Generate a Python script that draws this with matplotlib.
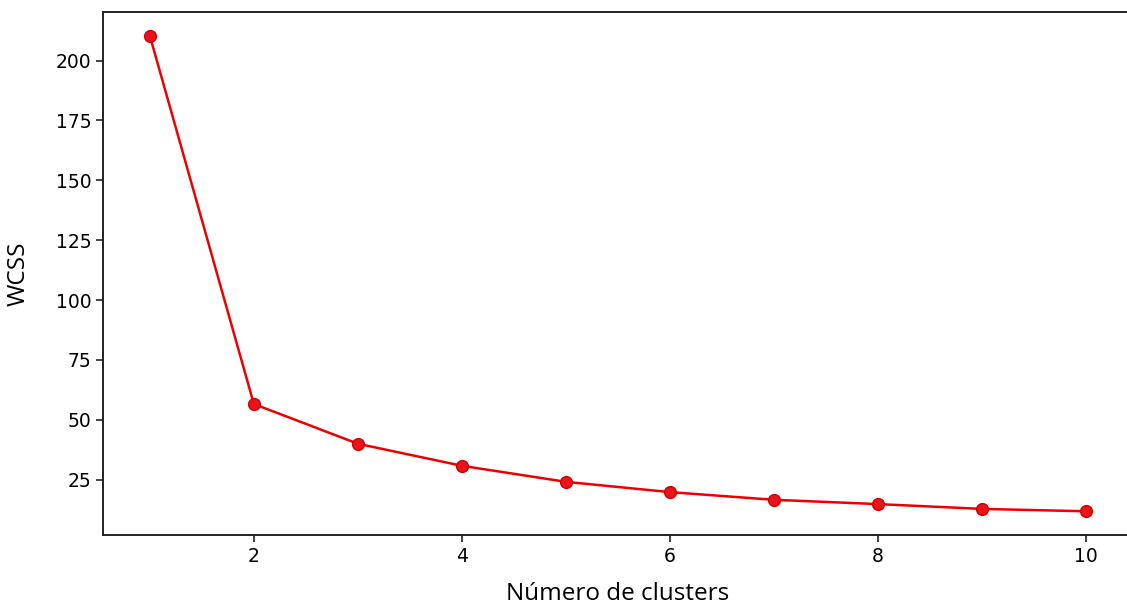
import matplotlib
matplotlib.use("Agg")
import matplotlib.pyplot as plt

clusters = [1, 2, 3, 4, 5, 6, 7, 8, 9, 10]
wcss = [210.4, 56.6, 40.0, 30.8, 24.1, 19.8, 16.6, 14.8, 12.8, 11.8]
xticks = [2, 4, 6, 8, 10]
yticks = [25, 50, 75, 100, 125, 150, 175, 200]

fig = plt.figure(figsize=(11.27, 6.08), dpi=100)
ax = fig.add_axes([103/1127, 1-535/608, (1133-103)/1127, (535-12)/608])
ax.plot(clusters, wcss, color='#ee0000', linewidth=1.8, marker='o',
        markersize=8.5, markerfacecolor='#e8141a', markeredgecolor='#d40000')
ax.set_xlim(0.55, 10.45)
ax.set_ylim(1.9, 220.3)
ax.set_xticks(xticks)
ax.set_yticks(yticks)
ax.tick_params(labelsize=13.5, length=5, width=1.2, color='#222222')
for s in ax.spines.values():
    s.set_linewidth(1.4)
    s.set_color('#222222')
ax.spines['right'].set_visible(False)
ax.set_xlabel('Número de clusters', family='Open Sans', fontsize=17.5, labelpad=12)
ax.set_ylabel('WCSS', family='Open Sans', fontsize=17.5, labelpad=18)
fig.savefig('out.png', dpi=100)
